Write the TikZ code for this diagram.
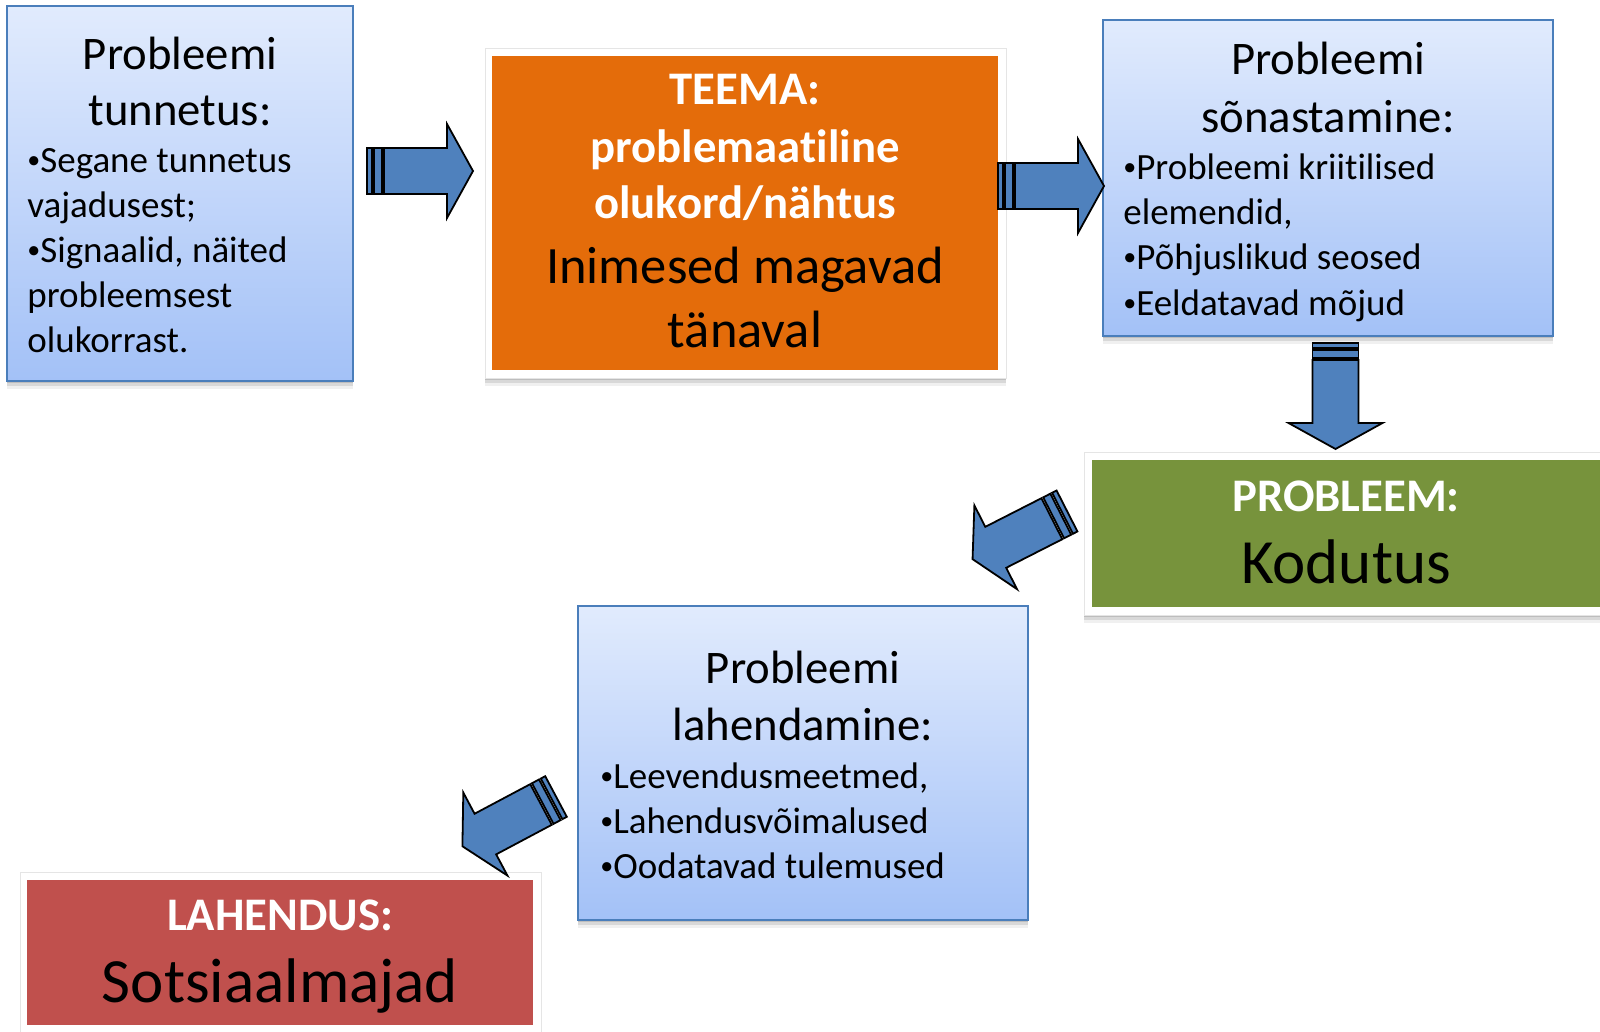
\documentclass[tikz,border=0pt]{standalone}
\usepackage{fontspec}
\setmainfont{Carlito}[Ligatures=NoCommon]
\usetikzlibrary{shadows}
\definecolor{bluetop}{HTML}{E1EBFD}
\definecolor{bluebot}{HTML}{A3C1F7}
\definecolor{blueedge}{HTML}{4A7EBB}
\definecolor{arrowblue}{HTML}{4F81BD}
\definecolor{orangefill}{HTML}{E46C0A}
\definecolor{greenfill}{HTML}{77933C}
\definecolor{redfill}{HTML}{C0504D}
\newcommand\mybullet{\raisebox{2pt}{\fontsize{13}{13}\selectfont •}}
\tikzset{
  shadowed/.style={
    drop shadow={shadow xshift=0pt,shadow yshift=-1pt,opacity=.12,fill=black},
    drop shadow={shadow xshift=0pt,shadow yshift=-2.5pt,opacity=.10,fill=black},
    drop shadow={shadow xshift=0pt,shadow yshift=-4pt,opacity=.06,fill=black}},
  bluebox/.style={shadowed, draw=blueedge, line width=1pt, top color=bluetop, bottom color=bluebot, inner sep=0pt},
  whiteframe/.style={shadowed, fill=white, draw=black!10, line width=0.5pt, inner sep=0pt},
  colorbox/.style={fill=#1, inner sep=0pt},
  titletext/.style={font=\fontsize{23.35}{28}\selectfont, inner sep=0pt, anchor=base},
  headtext/.style={font=\fontsize{23.35}{28}\selectfont\bfseries, text=white, inner sep=0pt, anchor=base},
  bigtext/.style={font=\fontsize{26.25}{31}\selectfont, inner sep=0pt, anchor=base},
  hugetext/.style={font=\fontsize{31.5}{37}\selectfont, inner sep=0pt, anchor=base},
  bullettext/.style={font=\fontsize{18.5}{22}\selectfont, inner sep=0pt, anchor=base west},
  arrowpart/.style={fill=arrowblue, draw=black, line width=0.9pt, line join=miter},
  striparrow/.pic={
    \path[arrowpart] (0,-23) rectangle (5,23);
    \path[arrowpart] (7,-23) rectangle (15,23);
    \path[arrowpart] (17,-23) -- (80,-23) -- (80,-47) -- (106,0) -- (80,47) -- (80,23) -- (17,23) -- cycle;
  }
}
\begin{document}
\begin{tikzpicture}[x=0.5pt,y=-0.5pt]
\useasboundingbox (0,0) rectangle (1600,1032);

% Box 1
\node[bluebox, minimum width=173pt, minimum height=187.5pt] (b1) at (180,193.5) {};
\node[titletext] (b1t1) at (180,70) {Probleemi};
\node[titletext] (b1t2) at (180,126) {tunnetus:};
\node[bullettext] (b1l1) at (27,173) {\mybullet Segane tunnetus};
\node[bullettext] (b1l2) at (27,218) {vajadusest;};
\node[bullettext] (b1l3) at (27,263) {\mybullet Signaalid, näited};
\node[bullettext] (b1l4) at (27,307) {probleemsest};
\node[bullettext] (b1l5) at (27,352) {olukorrast.};

% Box 2 (orange)
\node[whiteframe, minimum width=260.5pt, minimum height=164.5pt] (f2) at (745.5,213.5) {};
\node[colorbox=orangefill, minimum width=253pt, minimum height=157pt] (b2) at (745,213) {};
\node[headtext] (b2t1) at (745,105) {TEEMA:};
\node[headtext] (b2t2) at (745,163) {problemaatiline};
\node[headtext] (b2t3) at (745,219) {olukord/nähtus};
\node[bigtext] (b2t4) at (745,284) {Inimesed magavad};
\node[bigtext] (b2t5) at (745,347) {tänaval};

% Box 3
\node[bluebox, minimum width=225pt, minimum height=158pt] (b3) at (1328,178) {};
\node[titletext] (b3t1) at (1328,75) {Probleemi};
\node[titletext] (b3t2) at (1328,133) {sõnastamine:};
\node[bullettext] (b3l1) at (1123,180) {\mybullet Probleemi kriitilised};
\node[bullettext] (b3l2) at (1123,225) {elemendid,};
\node[bullettext] (b3l3) at (1123,270) {\mybullet Põhjuslikud seosed};
\node[bullettext] (b3l4) at (1123,315) {\mybullet Eeldatavad mõjud};

% Box 4 (green)
\node[whiteframe, minimum width=263pt, minimum height=81.5pt] (f4) at (1347,533.5) {};
\node[colorbox=greenfill, minimum width=259pt, minimum height=73.5pt] (b4) at (1351,533.5) {};
\node[headtext] (b4t1) at (1346,511) {PROBLEEM:};
\node[hugetext] (b4t2) at (1346,583) {Kodutus};

% Box 5
\node[bluebox, minimum width=225pt, minimum height=157pt] (b5) at (803,763) {};
\node[titletext] (b5t1) at (803,683) {Probleemi};
\node[titletext] (b5t2) at (803,740) {lahendamine:};
\node[bullettext] (b5l1) at (600,788) {\mybullet Leevendusmeetmed,};
\node[bullettext] (b5l2) at (600,833) {\mybullet Lahendusvõimalused};
\node[bullettext] (b5l3) at (600,878) {\mybullet Oodatavad tulemused};

% Box 6 (red)
\node[whiteframe, minimum width=260.5pt, minimum height=86.5pt] (f6) at (280.5,958.5) {};
\node[colorbox=redfill, minimum width=253pt, minimum height=72.5pt] (b6) at (280,952.5) {};
\node[headtext] (b6t1) at (280,930) {LAHENDUS:};
\node[hugetext] (b6t2) at (280,1002) {Sotsiaalmajad};

% Arrows
\pic (a1) at (367,171) {striparrow};
\pic (a2) at (998,186) {striparrow};
\pic[rotate=-90] (a3) at (1335.5,343) {striparrow};
\pic[rotate=207] (a4) at (1067,511) {striparrow};
\pic[rotate=208] (a5) at (556,796.5) {striparrow};
\end{tikzpicture}
\end{document}
